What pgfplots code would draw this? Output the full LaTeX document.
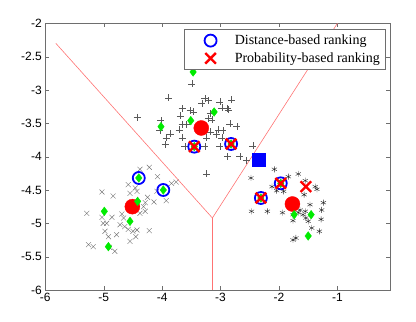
\documentclass[border=0pt]{standalone}
\usepackage{pgfplots}
\pgfplotsset{compat=1.18}
\usepackage{fontspec}
\setmainfont{Liberation Serif}
\newfontfamily\arial{Liberation Sans}
\usetikzlibrary{calc}
\definecolor{bndred}{RGB}{255,115,115}
\definecolor{mgreen}{RGB}{0,235,0}
\definecolor{axgray}{RGB}{110,110,110}
\begin{document}
\begin{tikzpicture}
\begin{axis}[
 scale only axis, width=344.7pt, height=266.7pt,
 xmin=-6, xmax=-0.1, ymin=-6, ymax=-2,
 xtick={-6,-5,-4,-3,-2,-1}, ytick={-6,-5.5,-5,-4.5,-4,-3.5,-3,-2.5,-2},
 axis line style={axgray}, tick style={axgray}, major tick length=4pt,
 tick align=inside,
 ticklabel style={font=\arial\fontsize{12}{14}\selectfont, text=black},
 /pgf/number format/assume math mode=true,
 /pgf/number format/fixed,
 legend style={at={(axis description cs:1,1)}, anchor=north east,
   xshift=-5pt, yshift=-6pt, font=\fontsize{14}{16}\selectfont,
   draw=axgray, legend cell align=left, inner ysep=3.5pt, /tikz/row sep=2.5pt},
 legend image code/.code={\path (0pt,0pt) (43pt,0pt);
   \draw[only marks,#1] plot coordinates {(22pt,0pt)};},
]
\coordinate (sw) at (rel axis cs:0,0);
\coordinate (ne) at (rel axis cs:1,1);
% decision boundaries
\addplot[bndred, line width=0.6pt, forget plot] coordinates {(-5.82,-2.30) (-3.14,-4.92) (-1.0,-2.0)};
\addplot[bndred, line width=0.6pt, forget plot] coordinates {(-3.14,-4.92) (-3.14,-6)};
% class 1 (+)
\addplot[only marks, mark=+, mark size=3.5pt, black!65, forget plot] coordinates {
(-3.49,-2.91) (-3.89,-3.12) (-4.43,-3.41) (-4.02,-3.46) (-3.27,-3.13) (-3.21,-3.16)
(-3.32,-3.20) (-3.01,-3.18) (-2.81,-3.15) (-2.98,-3.27) (-2.88,-3.28) (-3.66,-3.28)
(-3.52,-3.31) (-3.47,-3.33) (-3.69,-3.39) (-3.18,-3.35) (-3.21,-3.43) (-3.15,-3.45)
(-2.84,-3.51) (-2.72,-3.55) (-3.66,-3.52) (-3.58,-3.52) (-3.71,-3.60) (-3.04,-3.60)
(-3.18,-3.63) (-2.96,-3.61) (-3.86,-3.66) (-3.07,-3.67) (-3.66,-3.72) (-3.93,-3.72)
(-2.98,-3.72) (-3.24,-3.72) (-3.95,-3.82) (-3.61,-3.85) (-3.27,-3.85) (-3.01,-3.85)
(-2.87,-3.84) (-2.45,-3.84) (-2.88,-4.00) (-2.67,-4.00) (-2.56,-4.06) (-3.24,-4.26)
(-4.04,-3.61) (-2.87,-3.30)};
% class 2 (x)
\addplot[only marks, mark=x, mark size=3.5pt, black!55, forget plot] coordinates {
(-4.38,-4.19) (-4.22,-4.16) (-4.08,-4.30) (-3.84,-4.40) (-3.76,-4.38) (-4.58,-4.42)
(-4.46,-4.47) (-4.43,-4.52) (-4.55,-4.55) (-5.03,-4.53) (-4.84,-4.59) (-4.25,-4.61)
(-4.14,-4.68) (-3.93,-4.66) (-4.29,-4.69) (-4.32,-4.75) (-4.29,-4.82) (-4.38,-4.85)
(-5.29,-4.85) (-5.03,-4.91) (-5.01,-5.00) (-4.86,-4.91) (-4.69,-4.86) (-4.66,-4.92)
(-4.72,-5.02) (-4.64,-5.05) (-4.58,-5.09) (-4.50,-5.12) (-4.43,-5.10) (-4.95,-5.00)
(-4.45,-5.20) (-4.55,-5.27) (-4.22,-5.11) (-4.78,-5.17) (-4.92,-5.20) (-4.90,-5.36)
(-5.26,-5.32) (-5.18,-5.35) (-4.81,-5.42) (-4.09,-4.52) (-4.98,-5.12)};
% class 3 (*)
\addplot[only marks, mark=asterisk, mark size=3pt, black!85, forget plot] coordinates {
(-2.08,-4.19) (-2.48,-4.32) (-1.84,-4.30) (-1.67,-4.26) (-1.55,-4.36) (-1.38,-4.45)
(-1.35,-4.49) (-2.04,-4.51) (-1.92,-4.52) (-2.12,-4.45) (-1.57,-4.57) (-1.24,-4.69)
(-1.27,-4.80) (-1.28,-4.94) (-2.47,-4.82) (-2.20,-4.82) (-1.94,-4.84) (-1.76,-4.96)
(-1.64,-4.80) (-1.59,-4.87) (-1.54,-4.92) (-1.50,-4.97) (-1.44,-5.07) (-1.31,-5.12)
(-1.76,-5.25) (-1.71,-5.22) (-1.67,-4.84) (-1.55,-4.82) (-1.47,-4.72) (-1.76,-4.87)};
% class centres
\addplot[only marks, mark=*, mark size=7.5pt, red, forget plot] coordinates {
(-3.33,-3.57) (-4.51,-4.75) (-1.77,-4.71)};
% labelled samples
\addplot[only marks, mark=diamond*, mark size=4.3pt, mgreen, forget plot] coordinates {
(-3.47,-2.73) (-3.11,-3.33) (-3.51,-3.46) (-4.02,-3.55) (-4.99,-4.82) (-4.55,-4.97)
(-4.42,-4.67) (-4.92,-5.35) (-1.74,-4.87) (-1.45,-4.87) (-1.50,-5.19)
(-3.45,-3.85) (-2.82,-3.81) (-4.40,-4.32) (-3.98,-4.50) (-2.31,-4.62) (-1.97,-4.40)};
% query sample
\addplot[only marks, mark=square*, mark size=6.5pt, blue, forget plot] coordinates {(-2.35,-4.04)};
\addplot[only marks, mark=o, mark size=6pt, line width=1.8pt, blue] coordinates {
(-3.45,-3.85) (-2.82,-3.81) (-4.40,-4.32) (-3.98,-4.50) (-2.31,-4.62) (-1.97,-4.40)};
\addlegendentry{Distance-based ranking}
\addplot[only marks, mark=x, mark size=7.5pt, line width=2.4pt, red] coordinates {
(-3.45,-3.85) (-2.82,-3.81) (-2.31,-4.62) (-1.97,-4.40) (-1.54,-4.45)};
\addlegendentry{Probability-based ranking}
\end{axis}
\path ($(sw)+(-45.3pt,-31pt)$) rectangle ($(ne)+(26pt,23.3pt)$);
\end{tikzpicture}
\end{document}
